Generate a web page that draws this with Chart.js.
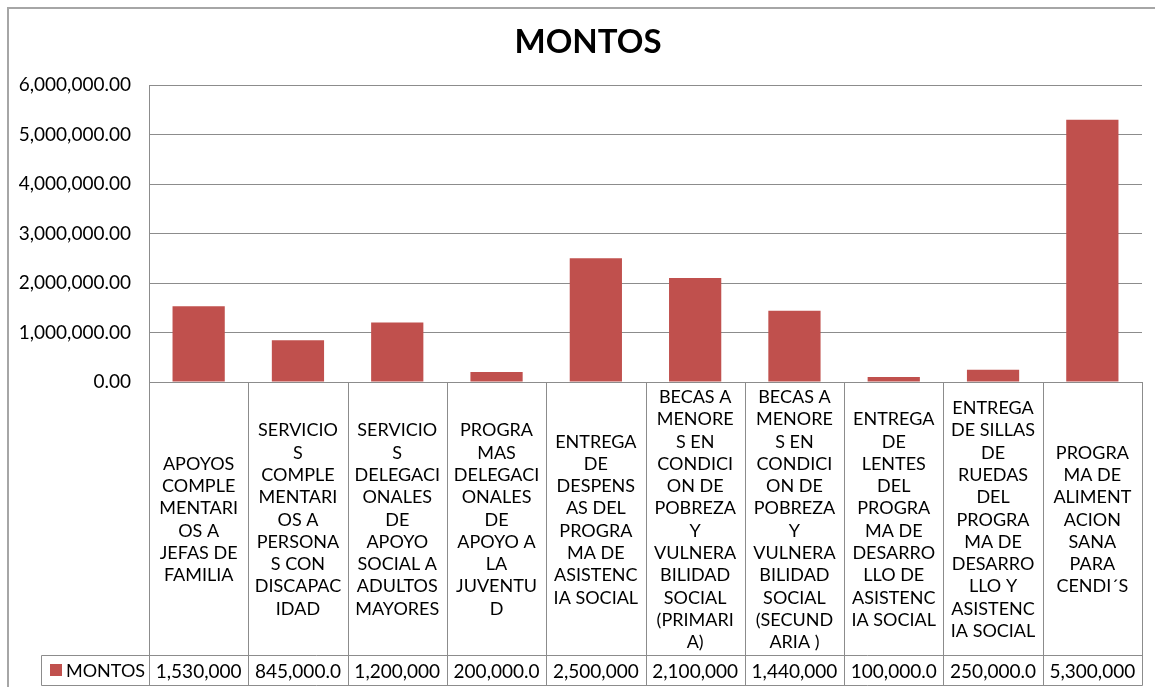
<!DOCTYPE html>
<html>
<head>
<meta charset="utf-8">
<style>
  html, body { margin: 0; padding: 0; background: #fff; }
  canvas { display: block; }
</style>
<script src="https://cdn.jsdelivr.net/npm/chart.js@4.4.0/dist/chart.umd.min.js"></script>
</head>
<body>
<canvas id="myChart" width="1155" height="687"></canvas>
<script>
// datos del grafico
const titulo = "MONTOS";
const serieNombre = "MONTOS";
const categorias = [
    ["APOYOS", "COMPLE", "MENTARI", "OS A", "JEFAS DE", "FAMILIA"],
    ["SERVICIO", "S", "COMPLE", "MENTARI", "OS A", "PERSONA", "S CON", "DISCAPAC", "IDAD"],
    ["SERVICIO", "S", "DELEGACI", "ONALES", "DE", "APOYO", "SOCIAL A", "ADULTOS", "MAYORES"],
    ["PROGRA", "MAS", "DELEGACI", "ONALES", "DE", "APOYO A", "LA", "JUVENTU", "D"],
    ["ENTREGA", "DE", "DESPENS", "AS DEL", "PROGRA", "MA DE", "ASISTENC", "IA SOCIAL"],
    ["BECAS A", "MENORE", "S EN", "CONDICI", "ON DE", "POBREZA", "Y", "VULNERA", "BILIDAD", "SOCIAL", "(PRIMARI", "A)"],
    ["BECAS A", "MENORE", "S EN", "CONDICI", "ON DE", "POBREZA", "Y", "VULNERA", "BILIDAD", "SOCIAL", "(SECUND", "ARIA )"],
    ["ENTREGA", "DE", "LENTES", "DEL", "PROGRA", "MA DE", "DESARRO", "LLO DE", "ASISTENC", "IA SOCIAL"],
    ["ENTREGA", "DE SILLAS", "DE", "RUEDAS", "DEL", "PROGRA", "MA DE", "DESARRO", "LLO Y", "ASISTENC", "IA SOCIAL"],
    ["PROGRA", "MA DE", "ALIMENT", "ACION", "SANA", "PARA", "CENDI´S"]
];
const montos = [1530000, 845000, 1200000, 200000, 2500000, 2100000, 1440000, 100000, 250000, 5300000];
const ejeMin = 0;
const ejeMax = 6000000;
const ejePaso = 1000000;

const FUENTE = "Lato, 'Liberation Sans', sans-serif";
const ROJO = "#C0504D";
const GRIS = "#8c8c8c";

function formato(v) {
    return v.toLocaleString("en-US", { minimumFractionDigits: 2, maximumFractionDigits: 2 });
}

// tabla de datos estilo Excel bajo el grafico
const tablaPlugin = {
    id: "tablaDatos",
    afterDraw(chart) {
        const ctx = chart.ctx;
        const x = chart.scales.x;
        const area = chart.chartArea;
        const n = categorias.length;
        const mitad = (x.getPixelForValue(1) - x.getPixelForValue(0)) / 2;
        const filaTop = 655.5;
        const filaBottom = 685.5;
        const legendLeft = 41.5;

        ctx.save();
        // marco exterior
        ctx.strokeStyle = "#a6a6a6";
        ctx.lineWidth = 2;
        ctx.beginPath();
        ctx.moveTo(8, 687);
        ctx.lineTo(8, 8);
        ctx.lineTo(1155, 8);
        ctx.stroke();

        // titulo
        ctx.fillStyle = "#000";
        ctx.font = "bold 33px " + FUENTE;
        ctx.textAlign = "center";
        ctx.textBaseline = "middle";
        ctx.fillText(titulo, 588, 42);

        // lineas de la tabla
        ctx.strokeStyle = GRIS;
        ctx.lineWidth = 1;
        ctx.beginPath();
        for (let i = 0; i <= n; i++) {
            const px = Math.round(x.getPixelForValue(i) - mitad) + 0.5;
            ctx.moveTo(px, area.bottom);
            ctx.lineTo(px, filaBottom);
        }
        ctx.moveTo(legendLeft, filaTop);
        ctx.lineTo(area.right + 0.5, filaTop);
        ctx.moveTo(legendLeft, filaBottom);
        ctx.lineTo(area.right + 0.5, filaBottom);
        ctx.moveTo(legendLeft, filaTop);
        ctx.lineTo(legendLeft, filaBottom);
        ctx.stroke();

        // textos de categorias
        ctx.fillStyle = "#000";
        ctx.font = "18px " + FUENTE;
        ctx.textAlign = "center";
        ctx.textBaseline = "middle";
        const alto = 22.3;
        const centro = (area.bottom + filaTop) / 2 + 1;
        categorias.forEach((lineas, i) => {
            const cx = x.getPixelForValue(i);
            const y0 = centro - (lineas.length - 1) * alto / 2;
            lineas.forEach((t, j) => ctx.fillText(t, cx, y0 + j * alto));
        });

        // valores: se recortan como en Excel
        ctx.font = "19px " + FUENTE;
        ctx.textAlign = "left";
        const yVal = (filaTop + filaBottom) / 2 + 1;
        montos.forEach((v, i) => {
            const left = x.getPixelForValue(i) - mitad;
            const ancho = mitad * 2 - 6;
            let s = formato(v);
            while (s.length > 1 && ctx.measureText(s).width > ancho) s = s.slice(0, -1);
            if (s.endsWith(".")) s = s.slice(0, -1);
            const w = ctx.measureText(s).width;
            const tx = w < ancho - 6 ? left + (mitad * 2 - w) / 2 : left + 4;
            ctx.fillText(s, tx, yVal);
        });

        // leyenda
        ctx.fillStyle = ROJO;
        ctx.fillRect(50, 664, 12, 12);
        ctx.fillStyle = "#000";
        ctx.font = "18px " + FUENTE;
        ctx.fillText(serieNombre, 66, yVal);
        ctx.restore();
    }
};

window.onload = function() {
    const ctx = document.getElementById("myChart").getContext("2d");
    const myChart = new Chart(ctx, {
        type: "bar",
        data: {
            labels: categorias,
            datasets: [
                {
                    label: serieNombre,
                    data: montos,
                    backgroundColor: ROJO,
                    borderWidth: 0,
                    barPercentage: 0.526,
                    categoryPercentage: 1.0,
                },
            ],
        },
        options: {
            responsive: false,
            animation: false,
            devicePixelRatio: 1,
            layout: {
                padding: { top: 85, bottom: 305, left: 0, right: 13 },
            },
            plugins: {
                legend: { display: false },
                title: { display: false },
                tooltip: { enabled: false },
            },
            scales: {
                x: {
                    display: false,
                },
                y: {
                    min: ejeMin,
                    max: ejeMax,
                    afterFit: (scale) => { scale.width = 149; },
                    ticks: {
                        stepSize: ejePaso,
                        color: "#000",
                        padding: 18,
                        font: { family: FUENTE, size: 19 },
                        callback: (v) => formato(v),
                    },
                    grid: {
                        color: GRIS,
                        drawTicks: false,
                    },
                    border: { color: GRIS },
                },
            },
        },
        plugins: [tablaPlugin],
    });
}
</script>
</body>
</html>
